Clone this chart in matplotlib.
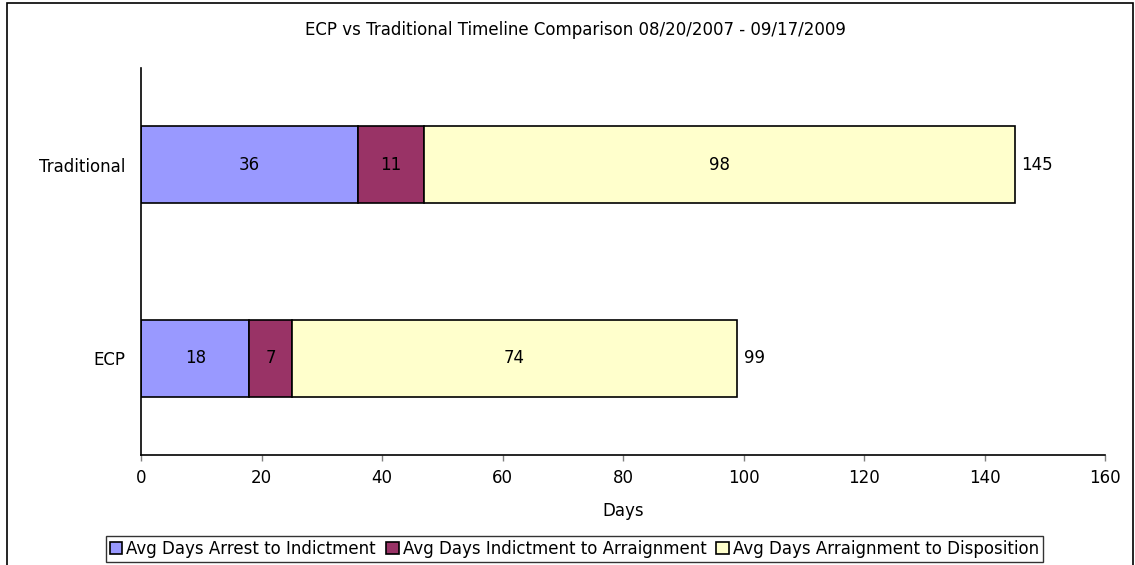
import matplotlib
matplotlib.use("Agg")
import matplotlib.pyplot as plt
from matplotlib.patches import Rectangle
import numpy as np

categories = ["ECP", "Traditional"]
series_names = ["Avg Days Arrest to Indictment",
                "Avg Days Indictment to Arraignment",
                "Avg Days Arraignment to Disposition"]
arrest_to_indictment = [18, 36]
indictment_to_arraignment = [7, 11]
arraignment_to_disposition = [74, 98]
totals = [99, 145]
colors = ["#9999FF", "#993366", "#FFFFCC"]
xticks = [0, 20, 40, 60, 80, 100, 120, 140, 160]

plt.rcParams['font.family'] = ['DejaVu Sans']
fs = 12

fig = plt.figure(figsize=(11.35, 5.65), dpi=100)
ax = fig.add_axes([141/1135, 1-455/565, (1105-141)/1135, (455-68)/565])

y = np.arange(len(categories))
left = np.zeros(len(categories))
series = [arrest_to_indictment, indictment_to_arraignment, arraignment_to_disposition]
for vals, col, name in zip(series, colors, series_names):
    bars = ax.barh(y, vals, left=left, height=0.4, color=col, edgecolor="black",
                   linewidth=1.2, label=name)
    for b, v in zip(bars, vals):
        ax.text(b.get_x() + b.get_width()/2, b.get_y() + b.get_height()/2, str(v),
                ha="center", va="center", fontsize=fs)
    left = left + np.array(vals)

for yi, t in zip(y, totals):
    ax.annotate(str(t), (t, yi), xytext=(4.5, 0), textcoords="offset points",
                ha="left", va="center", fontsize=fs)

ax.set_xlim(0, 160)
ax.set_ylim(-0.5, 1.5)
ax.set_xticks(xticks)
ax.set_xticklabels([str(v) for v in xticks], fontsize=fs)
ax.set_yticks(y)
ax.set_yticklabels(categories, fontsize=fs)
ax.tick_params(axis="y", length=0, pad=11)
ax.tick_params(axis="x", length=4, width=1, color="#808080", pad=6)
ax.spines["top"].set_visible(False)
ax.spines["right"].set_visible(False)
ax.spines["left"].set_linewidth(1.2)
ax.spines["bottom"].set_linewidth(1.2)
ax.set_xlabel("Days", fontsize=fs, labelpad=11)

fig.text(575/1135, 1-30/565, "ECP vs Traditional Timeline Comparison 08/20/2007 - 09/17/2009",
         ha="center", va="center", fontsize=fs)

leg = fig.legend(loc="center", bbox_to_anchor=(574.5/1135, 1-549/565), ncol=3,
                 fontsize=fs, frameon=True, fancybox=False, edgecolor="black",
                 handlelength=0.75, handleheight=0.75, handletextpad=0.25,
                 columnspacing=0.6, borderpad=0.25, borderaxespad=0)
leg.get_frame().set_linewidth(1.0)

fig.patches.append(Rectangle((7/1135, -0.05), (1133-7)/1135, 1.05-3/565,
                             transform=fig.transFigure, fill=False,
                             edgecolor="black", linewidth=1.2))

fig.savefig("out.png", dpi=100)
